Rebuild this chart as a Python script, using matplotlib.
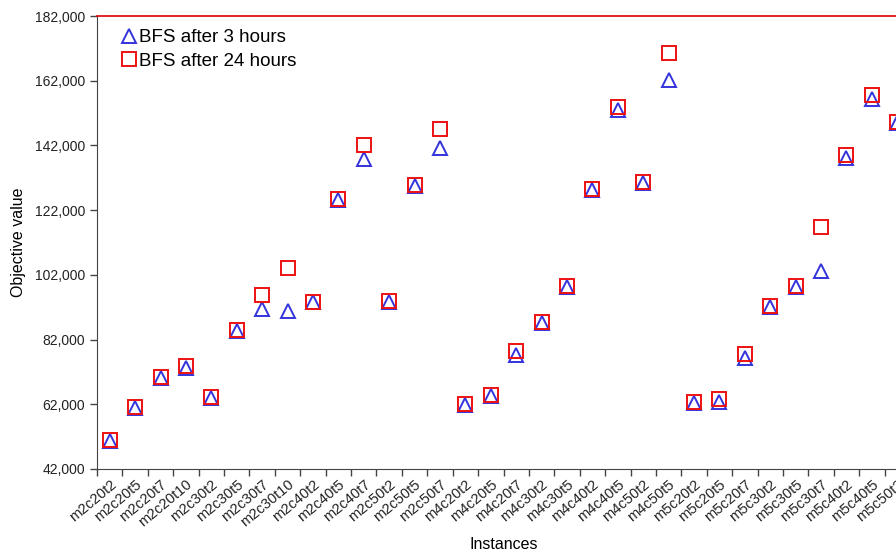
import numpy as np
import matplotlib.pyplot as plt
from matplotlib.ticker import FuncFormatter, FixedLocator

plt.rcParams['font.family'] = ['Liberation Sans', 'DejaVu Sans']

# 实例名称
instances = ['m2c20t2', 'm2c20t5', 'm2c20t7', 'm2c20t10', 'm2c30t2', 'm2c30t5',
             'm2c30t7', 'm2c30t10', 'm2c40t2', 'm2c40t5', 'm2c40t7', 'm2c50t2',
             'm2c50t5', 'm2c50t7', 'm4c20t2', 'm4c20t5', 'm4c20t7', 'm4c30t2',
             'm4c30t5', 'm4c40t2', 'm4c40t5', 'm4c50t2', 'm4c50t5', 'm5c20t2',
             'm5c20t5', 'm5c20t7', 'm5c30t2', 'm5c30t5', 'm5c30t7', 'm5c40t2',
             'm5c40t5', 'm5c50t2']

# 3小时后的目标值
bfs_3h = [50700, 61000, 70100, 73200, 64000, 84600, 91400, 90800, 93600, 125100,
          137800, 93600, 129500, 141200, 61800, 64500, 77200, 87100, 98200, 128200,
          152900, 130400, 162200, 62400, 62700, 76300, 92100, 98200, 103200, 138100,
          156400, 148900]

# 24小时后的目标值
bfs_24h = [50900, 61200, 70300, 73800, 64200, 85000, 95800, 104100, 93700, 125400,
           142200, 93800, 129700, 147100, 62000, 64800, 78400, 87400, 98500, 128500,
           153900, 130700, 170600, 62600, 63600, 77500, 92300, 98500, 116800, 139000,
           157600, 149200]

x = np.arange(len(instances))

fig = plt.figure(figsize=(8.96, 5.57), dpi=100)
ax = fig.add_axes([97 / 896, 88 / 557, 813 / 896, 453 / 557])

ax.plot(x, bfs_3h, linestyle='none', marker='^', markersize=10.5,
        markerfacecolor='none', markeredgecolor='#3333dd', markeredgewidth=1.4,
        label='BFS after 3 hours')
ax.plot(x, bfs_24h, linestyle='none', marker='s', markersize=9.5,
        markerfacecolor='none', markeredgecolor='#ee1111', markeredgewidth=1.4,
        label='BFS after 24 hours')

ax.set_xlim(-0.5, len(instances) - 0.5)
ax.set_ylim(42000, 182000)
ax.set_yticks(np.arange(42000, 182001, 20000))
ax.yaxis.set_major_formatter(FuncFormatter(lambda v, p: f'{int(v):,}'))

# 刻度线放在类别之间
ax.set_xticks(x)
ax.set_xticklabels(instances, rotation=40, ha='right', rotation_mode='anchor')
ax.xaxis.set_minor_locator(FixedLocator(np.arange(-0.5, len(instances), 1)))
ax.tick_params(axis='x', which='major', length=0, pad=6, labelsize=10.5, colors='#222222')
ax.tick_params(axis='x', which='minor', length=5, width=1, color='#444444')
ax.tick_params(axis='y', length=5, width=1, color='#444444', labelsize=10, labelcolor='#222222')

ax.spines['top'].set_color('#dd0000')
ax.spines['top'].set_linewidth(1.2)
ax.spines['right'].set_visible(False)
ax.spines['left'].set_color('#444444')
ax.spines['bottom'].set_color('#444444')

ax.set_xlabel('Instances', fontsize=11.5, labelpad=5)
ax.set_ylabel('Objective value', fontsize=11.5, labelpad=6)

ax.legend(loc='upper left', frameon=False, fontsize=13.5, handletextpad=0.0,
          borderaxespad=0.3, labelspacing=0.35, handlelength=1.1,
          bbox_to_anchor=(0.01, 1.0))

fig.savefig('out.png', dpi=100)
